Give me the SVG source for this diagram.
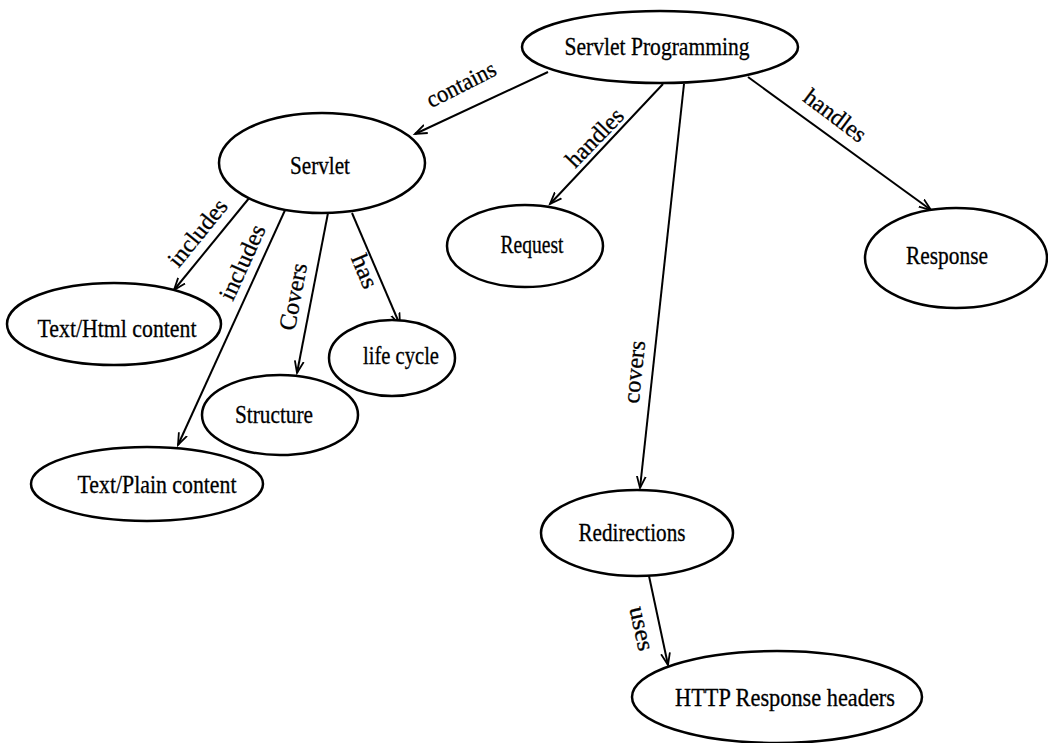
<svg xmlns="http://www.w3.org/2000/svg" width="1048" height="743" viewBox="0 0 1048 743">
<defs>
<style>
.node ellipse{fill:#fff;stroke:#000;stroke-width:2.5}
.node text{font-family:"Liberation Serif","Times New Roman",serif;font-size:25px;fill:#000;stroke:#000;stroke-width:0.3;text-anchor:middle}
.edge line{stroke:#000;stroke-width:2;marker-end:url(#arr)}
.lbl{font-family:"Liberation Serif","Times New Roman",serif;font-size:24px;fill:#000;stroke:#000;stroke-width:0.3;text-anchor:middle}
</style>
<marker id="arr" markerUnits="userSpaceOnUse" markerWidth="16" markerHeight="14" refX="12" refY="6" orient="auto">
<path d="M0,1.5 L12,6 L0,10.5" fill="none" stroke="#000" stroke-width="1.8"/>
</marker>
</defs>
<rect width="1048" height="743" fill="#fff"/>
<g id="connectors">
<g class="edge"><line x1="548" y1="72" x2="415" y2="134"/><text class="lbl" transform="translate(462,86) rotate(-27)" y="6" textLength="75" lengthAdjust="spacingAndGlyphs">contains</text></g>
<g class="edge"><line x1="663" y1="84" x2="550" y2="204"/><text class="lbl" transform="translate(596,139) rotate(-46)" y="6" textLength="72" lengthAdjust="spacingAndGlyphs">handles</text></g>
<g class="edge"><line x1="684" y1="84" x2="640" y2="488"/><text class="lbl" transform="translate(636,372) rotate(-84)" y="6" textLength="63" lengthAdjust="spacingAndGlyphs">covers</text></g>
<g class="edge"><line x1="748" y1="77" x2="931" y2="210"/><text class="lbl" transform="translate(834,117) rotate(37)" y="6" textLength="72" lengthAdjust="spacingAndGlyphs">handles</text></g>
<g class="edge"><line x1="250" y1="197" x2="174" y2="290"/><text class="lbl" transform="translate(199,234) rotate(-51)" y="6" textLength="80" lengthAdjust="spacingAndGlyphs">includes</text></g>
<g class="edge"><line x1="286" y1="208" x2="178" y2="445"/><text class="lbl" transform="translate(244,263) rotate(-65.5)" y="6" textLength="80" lengthAdjust="spacingAndGlyphs">includes</text></g>
<g class="edge"><line x1="328" y1="213" x2="297" y2="373"/><text class="lbl" transform="translate(295,297) rotate(-79)" y="6" textLength="68" lengthAdjust="spacingAndGlyphs">Covers</text></g>
<g class="edge"><line x1="352" y1="213" x2="400" y2="325"/><text class="lbl" transform="translate(363,272) rotate(67)" y="6" textLength="35" lengthAdjust="spacingAndGlyphs">has</text></g>
<g class="edge"><line x1="649" y1="576" x2="668" y2="665"/><text class="lbl" transform="translate(640,629) rotate(77.5)" y="6" textLength="45" lengthAdjust="spacingAndGlyphs">uses</text></g>
</g>
<g id="servlet-programming" class="node"><ellipse cx="660" cy="47" rx="138" ry="36"/><text x="657" y="55" textLength="185" lengthAdjust="spacingAndGlyphs">Servlet Programming</text></g>
<g id="servlet" class="node"><ellipse cx="322" cy="163" rx="103" ry="50"/><text x="320" y="174" textLength="60" lengthAdjust="spacingAndGlyphs">Servlet</text></g>
<g id="request" class="node"><ellipse cx="525" cy="246" rx="78" ry="41"/><text x="532" y="253" textLength="63" lengthAdjust="spacingAndGlyphs">Request</text></g>
<g id="response" class="node"><ellipse cx="956" cy="258" rx="91" ry="50"/><text x="947" y="264" textLength="82" lengthAdjust="spacingAndGlyphs">Response</text></g>
<g id="text-html" class="node"><ellipse cx="114" cy="324" rx="107" ry="41"/><text x="117" y="337" textLength="159" lengthAdjust="spacingAndGlyphs">Text/Html content</text></g>
<g id="life-cycle" class="node"><ellipse cx="392" cy="358" rx="63" ry="38"/><text x="401" y="364" textLength="76" lengthAdjust="spacingAndGlyphs">life cycle</text></g>
<g id="structure" class="node"><ellipse cx="280" cy="415" rx="78" ry="40"/><text x="274" y="423" textLength="78" lengthAdjust="spacingAndGlyphs">Structure</text></g>
<g id="text-plain" class="node"><ellipse cx="147" cy="484" rx="116" ry="37"/><text x="157" y="493" textLength="159" lengthAdjust="spacingAndGlyphs">Text/Plain content</text></g>
<g id="redirections" class="node"><ellipse cx="637" cy="533" rx="96" ry="43"/><text x="632" y="541" textLength="107" lengthAdjust="spacingAndGlyphs">Redirections</text></g>
<g id="http-headers" class="node"><ellipse cx="777" cy="697" rx="145" ry="46"/><text x="785" y="706" textLength="220" lengthAdjust="spacingAndGlyphs">HTTP Response headers</text></g>
</svg>
